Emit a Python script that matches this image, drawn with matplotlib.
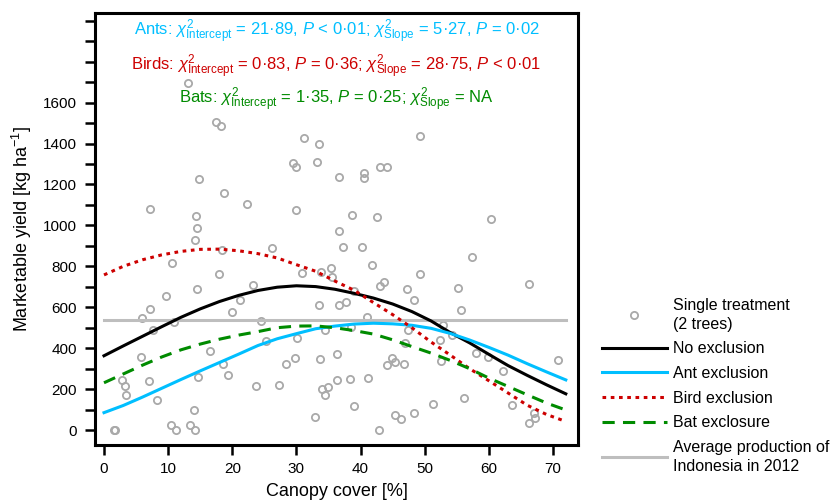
import matplotlib
matplotlib.use('Agg')
import matplotlib.pyplot as plt
from matplotlib.lines import Line2D

plt.rcParams['font.family'] = ['Liberation Sans', 'DejaVu Sans']
plt.rcParams['mathtext.fontset'] = 'custom'
plt.rcParams['mathtext.rm'] = 'Liberation Sans'
plt.rcParams['mathtext.it'] = 'Liberation Sans:italic'
plt.rcParams['mathtext.bf'] = 'Liberation Sans:bold'

# single treatments (canopy cover %, yield kg/ha)
canopy = [17.5, 18.2, 31.2, 33.5, 29.5, 30.0, 33.2, 36.6, 14.8, 18.7,
          22.3, 7.2, 30.0, 14.3, 14.5, 36.6, 14.2, 18.4, 26.2, 37.2,
          10.6, 30.8, 33.8, 35.4, 35.6, 18.0, 23.2, 14.5, 49.3, 43.0,
          44.1, 40.5, 40.5, 38.7, 42.5, 60.3, 40.3, 57.3, 41.8, 49.2,
          43.7, 43.1, 55.2, 66.2, 47.3, 9.7, 7.2, 5.9, 21.2, 19.9,
          10.9, 7.6, 24.4, 33.5, 36.7, 34.5, 30.1, 25.2, 16.5, 5.7,
          18.5, 28.3, 29.8, 33.7, 36.4, 19.3, 14.7, 2.8, 3.2, 3.4,
          7.0, 8.3, 23.7, 27.3, 34.0, 35.0, 34.4, 36.4, 14.0, 32.9,
          10.4, 11.3, 13.4, 14.2, 1.5, 1.7, 48.3, 38.9, 37.8, 55.7,
          41.0, 38.5, 47.4, 52.8, 54.2, 52.4, 47.0, 44.9, 45.3, 44.2,
          46.7, 52.5, 58.0, 59.9, 62.2, 70.8, 38.4, 41.2, 56.2, 51.3,
          39.0, 63.6, 45.4, 46.3, 48.3, 67.0, 67.2, 66.3, 42.8, 13.1]
yield_kg = [1507, 1486, 1429, 1398, 1304, 1287, 1309, 1238, 1225, 1158,
            1103, 1079, 1074, 1045, 989, 975, 929, 880, 888, 896,
            816, 769, 774, 790, 749, 764, 710, 688, 1437, 1286,
            1286, 1255, 1230, 1049, 1043, 1030, 895, 847, 807, 761,
            725, 704, 696, 712, 688, 655, 593, 547, 635, 578,
            528, 489, 531, 609, 609, 489, 450, 435, 386, 355,
            321, 324, 352, 347, 370, 267, 258, 244, 217, 171,
            238, 147, 217, 218, 199, 212, 171, 244, 99, 65,
            26, 0, 26, 0, 0, 0, 635, 681, 627, 587,
            554, 505, 489, 513, 464, 440, 424, 350, 334, 316,
            324, 336, 375, 358, 290, 342, 248, 254, 158, 129,
            117, 122, 73, 54, 82, 82, 57, 33, 0, 1698]

# fitted curves, read every 3 % canopy cover
curve_x = list(range(0, 73, 3))
no_exclusion = [363, 411, 458, 505, 551, 592, 628, 658, 682, 698, 705, 701, 688,
                668, 645, 616, 579, 533, 476, 426, 370, 315, 267, 221, 177]
ant_exclusion = [85, 120, 161, 204, 247, 289, 330, 371, 413, 446, 471, 495, 508,
                 518, 522, 519, 512, 497, 472, 440, 404, 366, 324, 284, 245]
bird_exclusion = [758, 800, 832, 856, 873, 883, 884, 876, 862, 841, 808, 776, 728,
                  683, 623, 564, 500, 430, 366, 300, 241, 181, 121, 76, 42]
bat_exclosure = [231, 274, 317, 357, 392, 420, 444, 464, 481, 500, 508, 509, 500,
                 486, 469, 441, 408, 376, 340, 300, 254, 213, 172, 132, 98]
indonesia_2012 = 540

blue = '#00BFFF'
red = '#CD0000'
green = '#008B00'
pt_grey = '#A9A9A9'
line_grey = '#BEBEBE'

fig = plt.figure(figsize=(8.35, 5.01), dpi=100)
ax = fig.add_axes([0.1138, 0.1118, 0.5784, 0.8623])

ax.plot(canopy, yield_kg, 'o', ms=5.2, mfc='none', mec=pt_grey, mew=1.3, zorder=2)
ax.plot([0, 72], [indonesia_2012, indonesia_2012], color=line_grey, lw=2.2, zorder=3)
ax.plot(curve_x, no_exclusion, color='black', lw=2.2, zorder=4)
ax.plot(curve_x, ant_exclusion, color=blue, lw=2.2, zorder=4)
ax.plot(curve_x, bird_exclusion, color=red, lw=2.2, ls=(0, (1.2, 1.5)), zorder=5)
ax.plot(curve_x, bat_exclosure, color=green, lw=2.2, ls=(0, (4, 2.7)), zorder=5)

ax.set_xlim(-1.4, 73.9)
ax.set_ylim(-73, 2038)
ax.set_xticks(range(0, 71, 10))
yt = list(range(0, 2001, 100))
ax.set_yticks(yt)
ax.set_yticklabels([str(v) if (v % 200 == 0 and v <= 1600) else '' for v in yt])
ax.tick_params(axis='both', direction='out', length=7, width=1.8, labelsize=11)
ax.tick_params(axis='y', pad=6)
ax.tick_params(axis='x', pad=5)
for s in ax.spines.values():
    s.set_linewidth(2.2)

ax.set_xlabel('Canopy cover [%]', fontsize=13, labelpad=5)
ax.set_ylabel('Marketable yield [kg ha$^{-1}$]', fontsize=13, labelpad=6.5)

# model test statistics
ax.text(0.5, 0.956, r'Ants: $\chi^2_{\mathrm{Intercept}}$ = 21·89, $P$ < 0·01; '
        r'$\chi^2_{\mathrm{Slope}}$ = 5·27, $P$ = 0·02',
        transform=ax.transAxes, ha='center', va='center', fontsize=12, color=blue)
ax.text(0.5, 0.875, r'Birds: $\chi^2_{\mathrm{Intercept}}$ = 0·83, $P$ = 0·36; '
        r'$\chi^2_{\mathrm{Slope}}$ = 28·75, $P$ < 0·01',
        transform=ax.transAxes, ha='center', va='center', fontsize=12, color=red)
ax.text(0.5, 0.799, r'Bats: $\chi^2_{\mathrm{Intercept}}$ = 1·35, $P$ = 0·25; '
        r'$\chi^2_{\mathrm{Slope}}$ = NA',
        transform=ax.transAxes, ha='center', va='center', fontsize=12, color=green)

handles = [
    Line2D([], [], ls='none', marker='o', ms=5.2, mfc='none', mec=pt_grey, mew=1.3),
    Line2D([], [], color='black', lw=2.2),
    Line2D([], [], color=blue, lw=2.2),
    Line2D([], [], color=red, lw=2.2, ls=(0, (1.2, 1.5))),
    Line2D([], [], color=green, lw=2.2, ls=(0, (4, 2.7))),
    Line2D([], [], color=line_grey, lw=2.2),
]
labels = ['Single treatment\n(2 trees)', 'No exclusion', 'Ant exclusion',
          'Bird exclusion', 'Bat exclosure', 'Average production of\nIndonesia in 2012']
leg = fig.legend(handles, labels, loc='upper left', bbox_to_anchor=(0.721, 0.406),
                 frameon=False, fontsize=11.5, handlelength=4.05, handletextpad=0.37,
                 labelspacing=0.6, borderpad=0, borderaxespad=0)
for t in leg.get_texts():
    t.set_linespacing(1.35)

fig.savefig('out.png', dpi=100)
